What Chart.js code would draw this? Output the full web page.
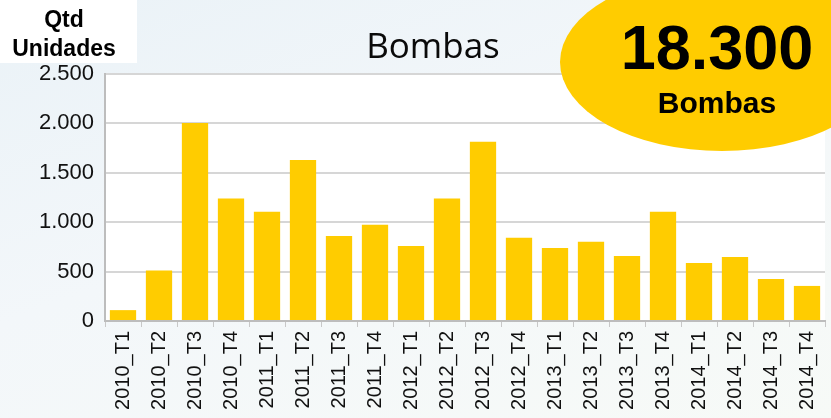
<!DOCTYPE html>
<html>
<head>
<meta charset="utf-8">
<script src="https://cdn.jsdelivr.net/npm/chart.js@4.4.0/dist/chart.umd.min.js"></script>
<style>
    html, body { margin: 0; padding: 0; overflow: hidden; }
    body {
        width: 831px; height: 418px;
        background: linear-gradient(160deg, #eaf2f7 0%, #f3f7fa 45%, #f7faf7 100%);
    }
    #wrap { position: absolute; left: 0; top: 0; width: 835px; height: 418px; }
</style>
</head>
<body>
<div id="wrap"><canvas id="barChart" width="835" height="418"></canvas></div>
<script>
// dados
const quarters = ['2010_T1', '2010_T2', '2010_T3', '2010_T4',
                  '2011_T1', '2011_T2', '2011_T3', '2011_T4',
                  '2012_T1', '2012_T2', '2012_T3', '2012_T4',
                  '2013_T1', '2013_T2', '2013_T3', '2013_T4',
                  '2014_T1', '2014_T2', '2014_T3', '2014_T4'];
const bombas = [110, 510, 2005, 1240,
                1105, 1630, 860, 975,
                760, 1240, 1815, 842,
                740, 801, 659, 1105,
                588, 649, 426, 355];
const yTicks = [0, 500, 1000, 1500, 2000, 2500];
const totalLabel = '18.300';

const YELLOW = '#FFCC00';

function fmt(v){
    return v.toLocaleString('pt-BR');
}

// fundo branco da área do gráfico + título, caixa e elipse
const decor = {
    id: 'decor',
    beforeDraw(chart){
        let c = chart.ctx, a = chart.chartArea;
        c.save();
        c.fillStyle = '#ffffff';
        c.fillRect(a.left, a.top, a.right - a.left, a.bottom - a.top);
        c.restore();
    },
    afterDraw(chart){
        let c = chart.ctx;
        c.save();

        // caixa "Qtd Unidades"
        c.fillStyle = '#ffffff';
        c.fillRect(0, 0, 137, 63);
        c.fillStyle = '#000';
        c.font = 'bold 23px "Liberation Sans", Arial, sans-serif';
        c.textAlign = 'center';
        c.textBaseline = 'alphabetic';
        c.fillText('Qtd', 64, 27);
        c.fillText('Unidades', 64, 56);

        // título
        c.font = '35px "Open Sans", sans-serif';
        c.fillStyle = '#0a0a0a';
        c.fillText('Bombas', 433, 58);

        // elipse do total
        c.fillStyle = YELLOW;
        c.beginPath();
        c.ellipse(722, 62, 162, 89, 0, 0, Math.PI * 2);
        c.fill();

        c.fillStyle = '#000';
        c.font = 'bold 63px "Liberation Sans", Arial, sans-serif';
        c.fillText(totalLabel, 717, 69);
        c.font = 'bold 30px "Liberation Sans", Arial, sans-serif';
        c.fillText('Bombas', 717, 113);

        c.restore();
    }
};

const ctx = document.getElementById('barChart');

new Chart(ctx, {
    type: 'bar',
    data: {
        labels: quarters,
        datasets: [{
            label: 'Bombas',
            data: bombas,
            backgroundColor: YELLOW,
            borderWidth: 0,
            barPercentage: 0.73,
            categoryPercentage: 1
        }]
    },
    options: {
        responsive: false,
        animation: false,
        layout: { padding: { top: 74, left: 0, right: 0, bottom: 0 } },
        plugins: {
            legend: { display: false },
            tooltip: { enabled: false }
        },
        scales: {
            x: {
                grid: {
                    drawOnChartArea: false,
                    color: '#c8c8c8',
                    tickLength: 6,
                    lineWidth: 1
                },
                border: { color: '#bdbdbd', width: 2 },
                ticks: {
                    color: '#111',
                    font: { family: '"Liberation Sans", Arial, sans-serif', size: 20 },
                    minRotation: 90,
                    maxRotation: 90,
                    autoSkip: false,
                    padding: 4
                },
                afterFit(scale){ scale.height = 97; }
            },
            y: {
                min: 0,
                max: 2500,
                grid: {
                    color: '#d6d6d6',
                    lineWidth: 2,
                    drawTicks: false
                },
                border: { color: '#bdbdbd', width: 2 },
                afterBuildTicks(scale){
                    scale.ticks = yTicks.map(v => ({ value: v }));
                },
                ticks: {
                    color: '#111',
                    font: { family: '"Liberation Sans", Arial, sans-serif', size: 22 },
                    padding: 11,
                    callback: v => fmt(v)
                },
                afterFit(scale){ scale.width = 105; }
            }
        }
    },
    plugins: [decor]
});
</script>
</body>
</html>
